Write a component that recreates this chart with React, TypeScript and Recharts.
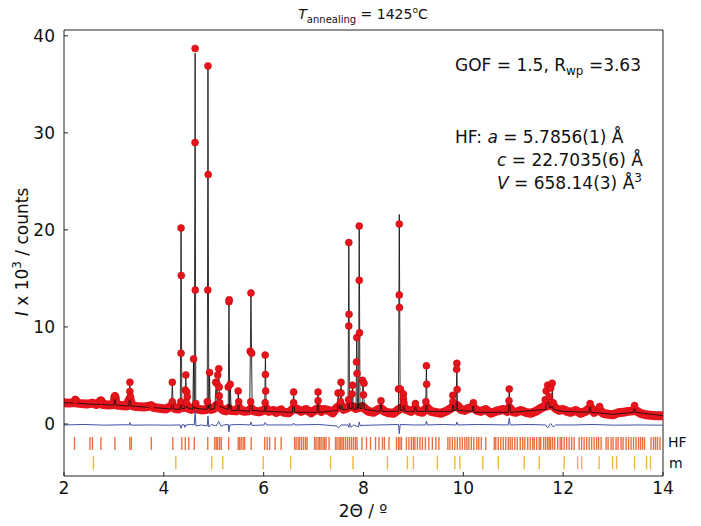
import { ComposedChart, Line, ReferenceLine, Scatter, XAxis, YAxis } from "recharts";

type Pt = [number, number];

// observed background (dense red band)
const obsBand: Pt[] = [
  [2.0, 2.2], [2.1, 2.15], [2.2, 2.2], [2.23, 2.45], [2.26, 2.15], [2.35, 2.1], [2.45, 2.05], [2.52, 2.1],
  [2.57, 2.15], [2.65, 2.0], [2.74, 2.4], [2.78, 2.0], [2.9, 1.95], [3.0, 2.0], [3.02, 2.8], [3.05, 1.95],
  [3.15, 1.9], [3.25, 1.85], [3.32, 2.6], [3.36, 1.9], [3.45, 1.8], [3.6, 1.75], [3.75, 1.85], [3.8, 1.7],
  [3.95, 1.6], [4.05, 1.55], [4.17, 1.9], [4.22, 1.6], [4.3, 1.55], [4.35, 1.9], [4.4, 1.7], [4.45, 2.0],
  [4.5, 1.6], [4.55, 1.5], [4.6, 1.7], [4.66, 1.55], [4.75, 1.45], [4.85, 1.5], [4.9, 1.7], [4.95, 1.5],
  [5.0, 1.6], [5.05, 1.9], [5.1, 1.8], [5.15, 1.6], [5.2, 1.4], [5.25, 1.35], [5.3, 1.6], [5.35, 1.4],
  [5.45, 1.35], [5.5, 1.7], [5.55, 1.4], [5.62, 1.3], [5.7, 1.35], [5.75, 1.6], [5.8, 1.35], [5.9, 1.25],
  [6.0, 1.4], [6.05, 1.6], [6.1, 1.3], [6.2, 1.4], [6.25, 1.2], [6.35, 1.45], [6.4, 1.2], [6.5, 1.15],
  [6.6, 1.6], [6.68, 1.5], [6.75, 1.3], [6.85, 1.5], [6.95, 1.15], [7.05, 1.5], [7.1, 1.6], [7.15, 1.3],
  [7.2, 1.5], [7.3, 1.4], [7.38, 1.15], [7.45, 1.6], [7.5, 1.8], [7.55, 1.9], [7.6, 1.5], [7.65, 1.6],
  [7.72, 1.8], [7.78, 1.8], [7.85, 1.6], [7.92, 1.7], [7.98, 1.8], [8.05, 1.5], [8.1, 1.3], [8.2, 1.2],
  [8.3, 1.5], [8.35, 1.6], [8.42, 1.3], [8.5, 1.15], [8.6, 1.1], [8.68, 1.4], [8.74, 1.6], [8.8, 1.8],
  [8.85, 1.5], [8.95, 1.3], [9.04, 1.6], [9.1, 1.3], [9.18, 1.2], [9.27, 1.7], [9.35, 1.3], [9.45, 1.2],
  [9.55, 1.1], [9.65, 1.3], [9.72, 1.5], [9.8, 1.8], [9.88, 1.9], [9.95, 1.5], [10.03, 1.4], [10.1, 1.6],
  [10.2, 1.7], [10.27, 1.4], [10.35, 1.3], [10.45, 1.5], [10.55, 1.1], [10.65, 1.3], [10.72, 1.4], [10.8, 1.5],
  [10.88, 1.3], [10.92, 1.7], [10.98, 1.3], [11.05, 1.2], [11.15, 1.4], [11.25, 1.2], [11.35, 1.1], [11.45, 1.3],
  [11.55, 1.6], [11.62, 1.8], [11.7, 1.9], [11.78, 2.0], [11.85, 1.6], [11.92, 1.4], [12.0, 1.5], [12.08, 1.3],
  [12.15, 1.2], [12.25, 1.4], [12.35, 1.1], [12.45, 1.3], [12.55, 1.7], [12.62, 1.2], [12.72, 1.5], [12.8, 1.1],
  [12.9, 1.0], [13.0, 0.95], [13.1, 1.15], [13.2, 1.2], [13.3, 1.3], [13.4, 1.35], [13.45, 1.4], [13.55, 1.1],
  [13.65, 0.95], [13.75, 0.9], [13.85, 0.85], [13.95, 0.85], [14.0, 0.85],
];

// observed points standing out on the peaks
const obsPeaks: Pt[] = [
  [2.23, 2.5], [2.74, 2.4], [3.02, 2.9], [3.32, 4.3], [3.32, 3.35], [3.33, 2.8], [3.75, 1.95],
  [4.17, 4.3], [4.17, 2.3],
  [4.345, 20.2], [4.35, 15.3], [4.345, 7.3], [4.34, 2.3],
  [4.44, 5.05], [4.43, 3.5], [4.46, 3.3], [4.47, 2.8], [4.45, 2.2],
  [4.595, 6.7], [4.627, 38.7], [4.625, 29.0], [4.63, 13.8], [4.64, 2.1],
  [4.884, 36.9], [4.888, 25.7], [4.88, 13.8], [4.916, 5.3], [4.87, 2.3],
  [5.04, 4.3], [5.06, 4.2], [5.08, 5.05], [5.1, 5.7], [5.11, 3.8], [5.11, 2.9], [5.12, 2.2],
  [5.29, 3.8], [5.305, 12.6], [5.31, 12.8], [5.33, 4.1],
  [5.49, 3.4], [5.5, 2.3],
  [5.73, 7.5], [5.745, 13.5], [5.76, 7.3], [5.74, 2.3],
  [6.03, 7.1], [6.035, 5.1], [6.04, 3.4], [6.03, 2.2],
  [6.6, 3.3], [6.6, 2.2],
  [7.09, 3.3], [7.09, 2.4],
  [7.49, 3.2], [7.55, 4.3], [7.55, 3.2], [7.54, 2.3],
  [7.706, 18.7], [7.71, 11.3], [7.705, 10.1], [7.7, 2.5],
  [7.78, 4.0], [7.77, 3.1],
  [7.866, 8.9], [7.86, 6.4], [7.87, 5.2], [7.914, 20.4], [7.915, 14.8], [7.92, 9.4], [7.98, 4.5], [8.01, 4.2], [8.0, 3.0],
  [8.35, 2.4],
  [8.7, 3.6], [8.717, 20.6], [8.717, 13.3], [8.72, 12.0], [8.74, 3.6], [8.8, 3.1], [8.8, 2.6], [8.81, 2.2],
  [9.04, 2.1],
  [9.26, 6.0], [9.265, 4.1], [9.25, 2.3],
  [9.79, 2.95], [9.79, 2.3], [9.87, 6.25], [9.865, 5.65], [9.875, 3.55],
  [10.2, 2.2],
  [10.92, 3.6], [10.915, 2.4],
  [11.64, 2.5], [11.66, 3.4], [11.69, 4.0], [11.72, 2.8], [11.75, 3.7], [11.78, 4.2], [11.8, 2.2],
  [12.54, 2.1], [12.73, 1.8], [13.43, 1.9],
];

// calculated profile
const calcPoints: Pt[] = [
  [2.0, 2.2], [2.2, 2.15], [2.23, 2.4], [2.26, 2.15], [2.5, 2.05], [2.72, 2.0], [2.74, 2.4], [2.76, 2.0],
  [3.0, 1.95], [3.02, 2.8], [3.04, 1.95], [3.3, 1.85], [3.32, 4.2], [3.34, 1.85], [3.73, 1.7], [3.75, 1.9],
  [3.77, 1.7], [4.15, 1.55], [4.17, 4.2], [4.19, 1.55], [4.33, 1.5], [4.345, 20.3], [4.36, 1.6], [4.42, 1.6],
  [4.44, 5.0], [4.46, 1.7], [4.58, 1.5], [4.595, 6.6], [4.61, 1.6], [4.627, 38.2], [4.64, 1.6], [4.87, 1.5],
  [4.884, 37.0], [4.9, 1.6], [4.915, 5.2], [4.93, 1.5], [5.02, 1.6], [5.05, 4.3], [5.07, 2.0], [5.1, 5.7],
  [5.12, 1.8], [5.29, 1.5], [5.305, 12.8], [5.32, 1.6], [5.33, 4.0], [5.35, 1.4], [5.48, 1.4], [5.49, 3.4],
  [5.51, 1.4], [5.72, 1.3], [5.745, 13.4], [5.77, 1.4], [6.02, 1.3], [6.035, 7.2], [6.05, 1.3], [6.58, 1.2],
  [6.6, 3.3], [6.62, 1.2], [7.07, 1.2], [7.09, 3.3], [7.11, 1.2], [7.48, 1.4], [7.49, 3.2], [7.53, 1.5],
  [7.55, 4.3], [7.57, 1.5], [7.69, 1.5], [7.706, 18.8], [7.72, 1.6], [7.765, 1.6], [7.78, 4.0], [7.795, 1.5],
  [7.85, 1.5], [7.866, 9.0], [7.88, 1.6], [7.9, 1.6], [7.914, 20.6], [7.93, 1.6], [7.97, 1.6], [7.99, 4.4],
  [8.02, 1.5], [8.33, 1.3], [8.35, 2.4], [8.37, 1.3], [8.7, 1.3], [8.717, 21.6], [8.735, 1.4], [8.79, 1.4],
  [8.8, 3.1], [8.82, 1.3], [9.02, 1.3], [9.04, 2.1], [9.06, 1.3], [9.245, 1.3], [9.26, 6.0], [9.275, 1.3],
  [9.78, 1.3], [9.79, 2.9], [9.81, 1.4], [9.855, 1.4], [9.87, 6.3], [9.885, 1.4], [10.18, 1.3], [10.2, 2.2],
  [10.22, 1.2], [10.9, 1.2], [10.92, 3.6], [10.94, 1.2], [11.65, 1.5], [11.69, 4.0], [11.72, 1.7], [11.77, 1.7],
  [11.78, 4.2], [11.8, 1.5], [12.0, 1.3], [12.52, 1.2], [12.54, 2.1], [12.56, 1.2], [13.0, 1.0], [13.41, 1.2],
  [13.43, 1.9], [13.45, 1.2], [14.0, 0.85],
];

// observed - calculated
const diffPoints: Pt[] = [
  [2.0, -0.1], [2.4, -0.05], [2.8, -0.12], [3.2, -0.08], [3.31, -0.1], [3.32, 0.15], [3.34, -0.12], [3.7, -0.1],
  [4.1, -0.12], [4.3, -0.1], [4.33, -0.1], [4.345, -0.45], [4.37, -0.05], [4.41, -0.1], [4.42, -0.35], [4.44, -0.1],
  [4.55, -0.05], [4.61, -0.1], [4.627, 1.3], [4.645, -0.2], [4.75, -0.1], [4.87, -0.2], [4.884, 0.8], [4.9, -0.3],
  [4.95, -0.05], [5.05, -0.2], [5.1, 0.25], [5.15, -0.25], [5.2, -0.1], [5.29, -0.05], [5.305, -0.8], [5.32, -0.1],
  [5.5, -0.05], [5.73, -0.1], [5.745, 0.2], [5.77, -0.15], [6.01, -0.1], [6.03, 0.15], [6.06, -0.1], [6.58, -0.1],
  [6.6, 0.1], [6.62, -0.1], [7.1, -0.05], [7.45, -0.2], [7.5, -0.4], [7.55, -0.1], [7.69, -0.1], [7.706, -0.35],
  [7.72, 0.1], [7.75, -0.35], [7.8, -0.1], [7.9, -0.3], [7.914, 0.2], [7.93, -0.15], [8.3, -0.1], [8.7, -0.05],
  [8.717, -1.0], [8.735, -0.05], [9.0, -0.1], [9.245, -0.1], [9.26, 0.3], [9.28, -0.1], [9.6, -0.05], [9.855, -0.1],
  [9.87, 0.2], [9.89, -0.1], [10.3, -0.05], [10.9, -0.1], [10.92, 0.6], [10.94, -0.1], [11.3, -0.05], [11.65, -0.1],
  [11.69, -0.4], [11.75, 0.05], [11.8, -0.3], [11.85, -0.1], [12.2, -0.1], [12.6, -0.05], [13.0, -0.12],
  [13.5, -0.1], [14.0, -0.12],
];

const hfReflections = [
  2.21, 2.52, 2.57, 2.74, 3.02, 3.32, 3.35, 3.75, 4.18, 4.36, 4.43, 4.5, 4.61, 4.88, 5.02, 5.05, 5.08, 5.12,
  5.15, 5.3, 5.49, 5.52, 5.55, 5.59, 5.62, 5.75, 6.02, 6.07, 6.12, 6.23, 6.35, 6.62, 6.65, 6.69, 6.72, 6.76,
  6.8, 6.84, 6.87, 7.02, 7.05, 7.09, 7.12, 7.15, 7.19, 7.22, 7.25, 7.31, 7.44, 7.47, 7.51, 7.54, 7.57, 7.6,
  7.64, 7.68, 7.72, 7.76, 7.8, 7.84, 7.87, 7.97, 8.06, 8.14, 8.24, 8.31, 8.38, 8.42, 8.51, 8.66, 8.7, 8.73,
  8.76, 8.86, 8.91, 8.96, 9.0, 9.03, 9.08, 9.13, 9.18, 9.24, 9.31, 9.38, 9.45, 9.51, 9.69, 9.73, 9.78, 9.83,
  9.88, 9.93, 9.98, 10.03, 10.07, 10.11, 10.16, 10.21, 10.27, 10.31, 10.36, 10.45, 10.62, 10.65, 10.7, 10.75,
  10.8, 10.85, 10.9, 10.94, 10.98, 11.03, 11.08, 11.14, 11.19, 11.23, 11.29, 11.34, 11.39, 11.42, 11.47, 11.52,
  11.55, 11.61, 11.65, 11.69, 11.72, 11.75, 11.79, 11.83, 11.89, 11.94, 11.97, 12.02, 12.07, 12.12, 12.17,
  12.22, 12.32, 12.37, 12.42, 12.47, 12.52, 12.57, 12.62, 12.67, 12.71, 12.76, 12.86, 12.9, 12.96, 13.0,
  13.06, 13.1, 13.16, 13.2, 13.26, 13.31, 13.36, 13.41, 13.46, 13.51, 13.55, 13.59, 13.63, 13.76, 13.81,
  13.85, 13.89, 13.94,
];

const mReflections = [
  2.59, 4.24, 4.96, 5.18, 5.99, 6.54, 7.34, 7.79, 8.48, 8.88, 9.0, 9.48, 9.83, 9.93, 10.39, 10.7, 11.22, 11.52,
  12.02, 12.29, 12.37, 12.72, 12.99, 13.07, 13.43, 13.67, 13.75,
];

const xTicks = [2, 4, 6, 8, 10, 12, 14];
const yTicks = [0, 10, 20, 30, 40];

const HF_ROW = -2;
const M_ROW = -4;
const Y_MIN = -5.36;
const Y_MAX = 40.6;

const toRows = (pts: Pt[]) => pts.map(([x, y]) => ({ x, y }));

const font = "'DejaVu Sans', sans-serif";
const red = "#e6141c";

function TickMark(props: any, color: string) {
  const { cx, cy } = props;
  return <line x1={cx} x2={cx} y1={cy - 6.5} y2={cy + 6.5} stroke={color} strokeWidth={1.4} />;
}

function ObsDot(props: any) {
  const { cx, cy } = props;
  return <circle cx={cx} cy={cy} r={3.5} fill={red} stroke="#c20000" strokeWidth={0.5} />;
}

function Annotations() {
  return (
    <svg
      width={701}
      height={526}
      style={{ position: "absolute", left: 0, top: 0, pointerEvents: "none" }}
      fontFamily={font}
      fill="#111"
    >
      <text x={363} y={19} textAnchor="middle" fontSize={14}>
        <tspan fontStyle="italic">T</tspan>
        <tspan fontSize={10} dy={4}>annealing</tspan>
        <tspan dy={-4}> = 1425</tspan>
        <tspan fontSize={9} dy={-6}>o</tspan>
        <tspan dy={6}>C</tspan>
      </text>
      <text x={455} y={71} fontSize={17}>
        GOF = 1.5, R<tspan fontSize={12} dy={4}>wp</tspan>
        <tspan dy={-4}> =3.63</tspan>
      </text>
      <text x={455} y={143} fontSize={17}>
        HF: <tspan fontStyle="italic">a</tspan> = 5.7856(1) Å
      </text>
      <text x={497} y={166} fontSize={17}>
        <tspan fontStyle="italic">c</tspan> = 22.7035(6) Å
      </text>
      <text x={497} y={189} fontSize={17}>
        <tspan fontStyle="italic">V</tspan> = 658.14(3) Å<tspan fontSize={12} dy={-7}>3</tspan>
      </text>
      <text x={668} y={447} fontSize={14}>HF</text>
      <text x={669} y={468} fontSize={14}>m</text>
      <text x={363} y={517} textAnchor="middle" fontSize={17}>
        2Θ / º
      </text>
      <text transform="translate(28,252) rotate(-90)" textAnchor="middle" fontSize={17}>
        <tspan fontStyle="italic">I</tspan> x 10<tspan fontSize={12} dy={-7}>3</tspan>
        <tspan dy={7}> / counts</tspan>
      </text>
    </svg>
  );
}

export default function App() {
  const hfRows = hfReflections.map((x) => ({ x, y: HF_ROW }));
  const mRows = mReflections.map((x) => ({ x, y: M_ROW }));
  return (
    <div style={{ position: "absolute", left: 0, top: 0, width: 701, height: 526, background: "#fff" }}>
      <ComposedChart width={701} height={526} margin={{ top: 30, right: 38, bottom: 0, left: 0 }}>
        <XAxis
          dataKey="x"
          type="number"
          domain={[2, 14]}
          ticks={xTicks}
          allowDataOverflow
          height={50}
          tickSize={-4}
          tickMargin={10}
          stroke="#222"
          tick={{ fontSize: 17, fill: "#111", fontFamily: font }}
        />
        <YAxis
          dataKey="y"
          type="number"
          domain={[Y_MIN, Y_MAX]}
          ticks={yTicks}
          allowDataOverflow
          width={64}
          tickSize={-4}
          tickMargin={13}
          stroke="#222"
          tick={{ fontSize: 17, fill: "#111", fontFamily: font }}
        />
        <ReferenceLine x={14} stroke="#222" />
        <ReferenceLine y={Y_MAX} stroke="#222" />
        <Line
          data={toRows(obsBand)}
          dataKey="y"
          stroke={red}
          strokeWidth={9}
          strokeLinejoin="round"
          strokeLinecap="round"
          dot={false}
          isAnimationActive={false}
        />
        <Scatter data={toRows(obsPeaks)} shape={ObsDot} isAnimationActive={false} />
        <Line
          data={toRows(calcPoints)}
          dataKey="y"
          stroke="#111"
          strokeWidth={1}
          strokeOpacity={0.85}
          dot={false}
          isAnimationActive={false}
        />
        <Line
          data={toRows(diffPoints)}
          dataKey="y"
          stroke="#3f51a3"
          strokeWidth={1}
          dot={false}
          isAnimationActive={false}
        />
        <Scatter data={hfRows} shape={(p: any) => TickMark(p, "#e9713f")} isAnimationActive={false} />
        <Scatter data={mRows} shape={(p: any) => TickMark(p, "#f2b43c")} isAnimationActive={false} />
      </ComposedChart>
      <Annotations />
    </div>
  );
}
